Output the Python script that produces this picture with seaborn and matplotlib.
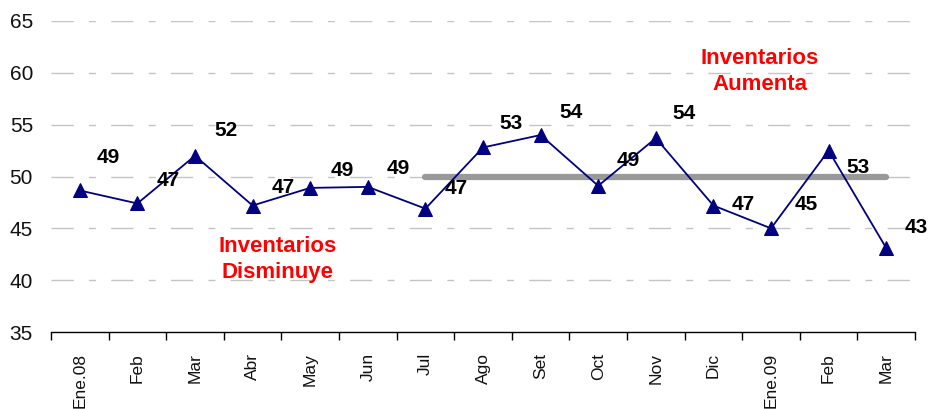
#!/usr/bin/env python

"""
Inventarios index, Ene.08 - Mar.09
"""

import numpy as np
import pandas as pd
import matplotlib
matplotlib.use("Agg")
import matplotlib.pyplot as plt
import seaborn as sns
sns.set_style("white")

plt.rcParams['font.family'] = ['Liberation Sans', 'DejaVu Sans']

months = ["Ene.08", "Feb", "Mar", "Abr", "May", "Jun", "Jul", "Ago",
          "Set", "Oct", "Nov", "Dic", "Ene.09", "Feb", "Mar"]
values = [48.65, 47.4, 52.0, 47.2, 48.9, 49.0, 46.9, 52.8,
          54.0, 49.1, 53.7, 47.2, 45.0, 52.5, 43.1]
labels = ["49", "47", "52", "47", "49", "49", "47", "53",
          "54", "49", "54", "47", "45", "53", "43"]

# neutral line (50) from Jul to Mar
ref_level = 50
ref_from = 6
ref_to = 14

# label offsets in pixels (right, up)
label_off = [(28, 33), (31, 23), (31, 25), (31, 18), (32, 17), (30, 18),
             (31, 20), (28, 24), (30, 23), (30, 25), (28, 25), (30, 1),
             (35, 24), (29, -17), (30, 21)]

df = pd.DataFrame({"pos": np.arange(len(months)), "value": values})

fig = plt.figure(figsize=(9.3, 4.09), dpi=100)
ax = fig.add_axes([51 / 930, (409 - 332) / 409, (915 - 51) / 930, 311 / 409])

ax.set_ylim(35, 65)
ax.set_xlim(-0.5, len(months) - 0.5)

# gridlines
for yv in range(40, 70, 5):
    ax.axhline(yv, color="#c4c4c4", lw=1.0, dashes=(16, 11, 5, 11), zorder=0)

ax.plot([ref_from, ref_to], [ref_level, ref_level], color="#999999",
        lw=4.5, solid_capstyle="round", zorder=1)

sns.lineplot(data=df, x="pos", y="value", ax=ax, color="#000080", lw=1.3,
             marker="^", markersize=10, markeredgecolor="#000080", zorder=3)

for i, (v, lab) in enumerate(zip(values, labels)):
    dx, dy = label_off[i]
    ax.annotate(lab, (i, v), xytext=(dx * 0.72, dy * 0.72),
                textcoords="offset points", ha="center", va="center",
                fontsize=15, fontweight="bold", color="black", zorder=4)

ax.text(3.44, 42.0, "Inventarios\nDisminuye", color="#ff0000", fontsize=16,
        fontweight="bold", ha="center", va="center", linespacing=1.3)
ax.text(11.8, 60.1, "Inventarios\nAumenta", color="#ff0000", fontsize=16,
        fontweight="bold", ha="center", va="center", linespacing=1.3)

# x axis: ticks on category boundaries, labels at centres
ax.set_xticks(np.arange(-0.5, len(months), 1.0))
ax.set_xticklabels([])
ax.set_xticks(np.arange(len(months)), minor=True)
ax.set_xticklabels(months, minor=True, rotation=90, fontsize=12.5,
                   color="#111111")
ax.tick_params(axis="x", which="major", direction="out", length=6,
               width=1, color="black", bottom=True)
ax.tick_params(axis="x", which="minor", length=0, pad=15)

ax.set_yticks(range(35, 70, 5))
ax.set_yticklabels([str(v) for v in range(35, 70, 5)], fontsize=15,
                   color="#111111")
ax.tick_params(axis="y", length=0, pad=13)

ax.set_xlabel("")
ax.set_ylabel("")
for s in ["left", "top", "right"]:
    ax.spines[s].set_visible(False)
ax.spines["bottom"].set_color("black")
ax.spines["bottom"].set_linewidth(1)

plt.savefig("out.png", dpi=100)
